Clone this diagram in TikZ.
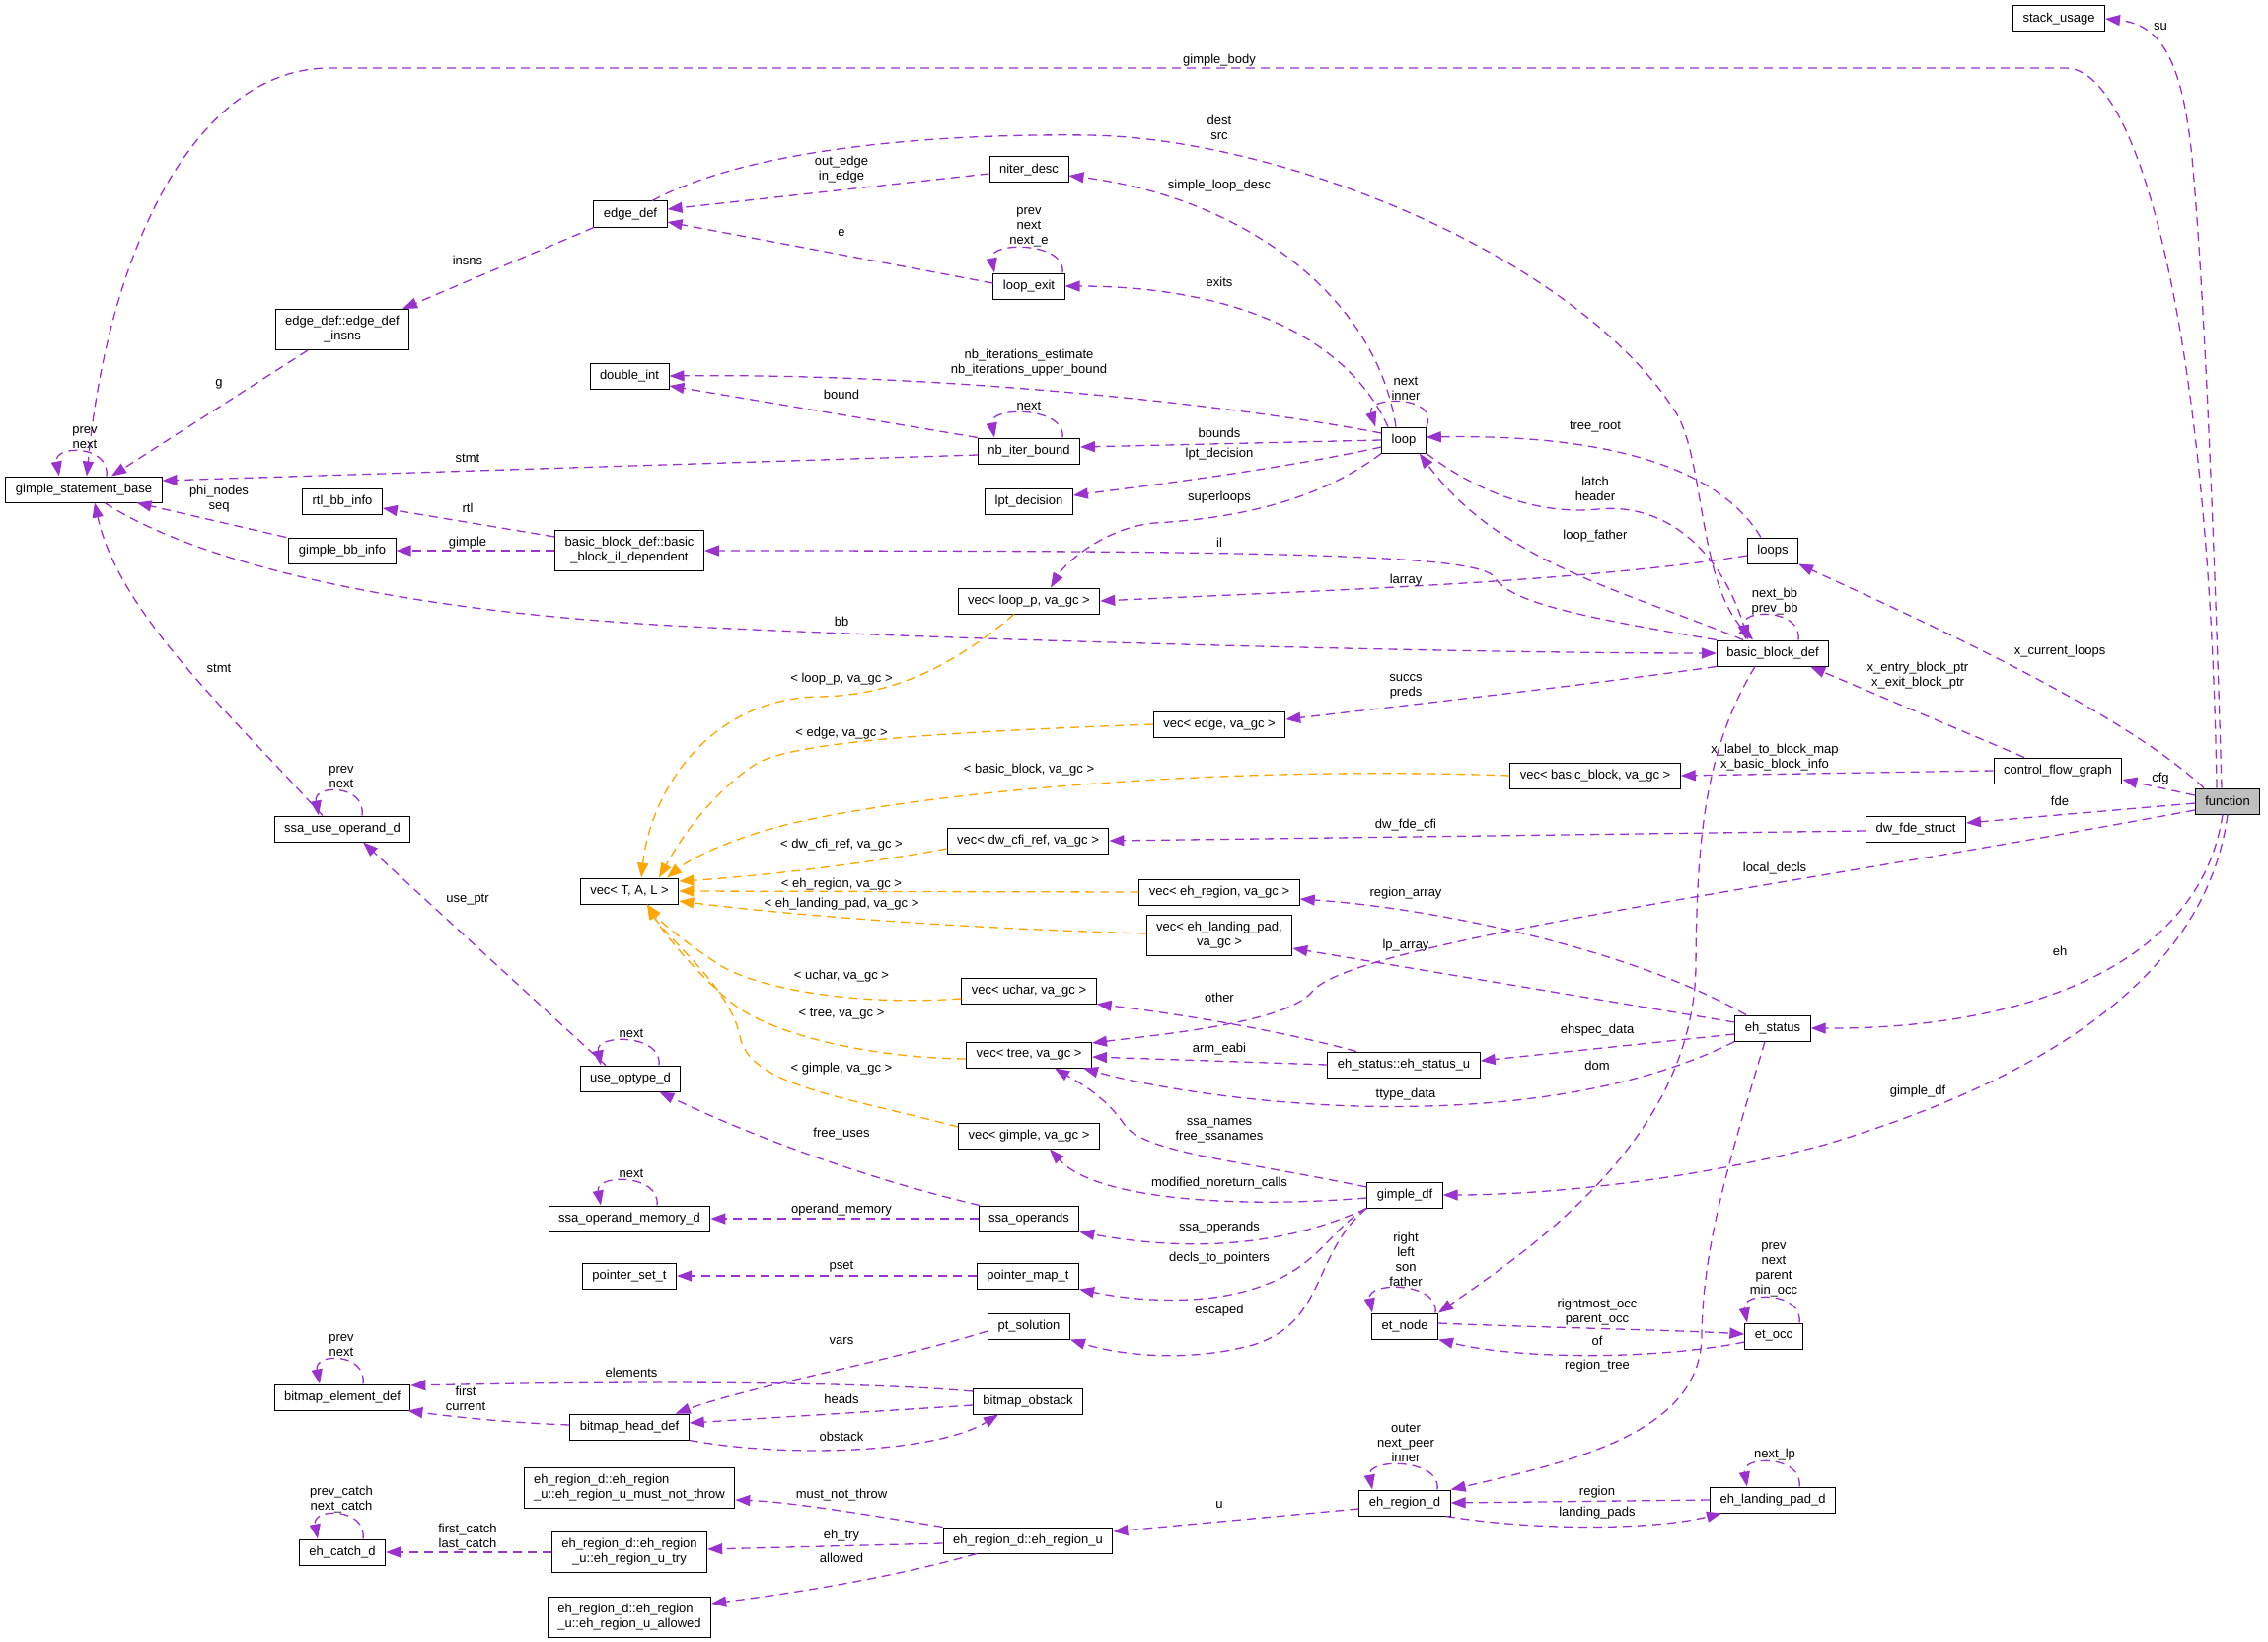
\documentclass[tikz,border=0pt]{standalone}
\usepackage{fontspec}
\setmainfont{Liberation Sans}
\usetikzlibrary{arrows.meta}
\definecolor{dxref}{HTML}{9A32CD}
\definecolor{dxtpl}{HTML}{FFA500}
\definecolor{dxfill}{HTML}{BFBFBF}
\newcommand{\dxfont}{\fontsize{13}{15}\selectfont}
\tikzset{
  cls/.style={draw=black, fill=white, line width=1pt, font=\dxfont,
              inner xsep=10pt, inner ysep=5pt, minimum height=26pt, align=center},
  cls2/.style={cls, minimum height=41pt},
  clsl/.style={cls2, align=left},
  cur/.style={cls, fill=dxfill},
  ref/.style={draw=dxref, line width=1.3pt, dash pattern=on 9pt off 6pt,
              -{Triangle[length=15pt,width=11pt]}},
  tpl/.style={ref, draw=dxtpl},
  lbl/.style={font=\dxfont, align=center, inner sep=0pt},
}

\begin{document}
\begin{tikzpicture}[x=1pt, y=-1pt]
  \useasboundingbox (0,0) rectangle (2299,1664);

  \node[cls] (gsb)      at (85,496)   {gimple\_statement\_base};
  \node[cls2] (insns)   at (347,334)  {edge\_def::edge\_def\\\_insns};
  \node[cls] (rtlbb)    at (347,508)  {rtl\_bb\_info};
  \node[cls] (gimplebb) at (347,558)  {gimple\_bb\_info};
  \node[cls] (ssause)   at (347,840)  {ssa\_use\_operand\_d};
  \node[cls] (bmelem)   at (347,1416) {bitmap\_element\_def};
  \node[cls] (catch)    at (347,1573) {eh\_catch\_d};

  \node[cls] (edgedef)  at (639,217)  {edge\_def};
  \node[cls] (dblint)   at (638,381)  {double\_int};
  \node[cls2] (bbil)    at (638,558)  {basic\_block\_def::basic\\\_block\_il\_dependent};
  \node[cls] (vecT)     at (638,903)  {vec< T, A, L >};
  \node[cls] (useopt)   at (639,1093) {use\_optype\_d};
  \node[cls] (opmem)    at (638,1235) {ssa\_operand\_memory\_d};
  \node[cls] (pset)     at (638,1293) {pointer\_set\_t};
  \node[cls] (bmhead)   at (638,1446) {bitmap\_head\_def};
  \node[clsl] (mnt)     at (638,1508) {eh\_region\_d::eh\_region\\\_u::eh\_region\_u\_must\_not\_throw};
  \node[cls2] (utry)    at (638,1573) {eh\_region\_d::eh\_region\\\_u::eh\_region\_u\_try};
  \node[clsl] (uallow)  at (638,1639) {eh\_region\_d::eh\_region\\\_u::eh\_region\_u\_allowed};

  \node[cls] (niter)    at (1043,172)  {niter\_desc};
  \node[cls] (loopexit) at (1043,290)  {loop\_exit};
  \node[cls] (nbiter)   at (1043,457)  {nb\_iter\_bound};
  \node[cls] (lpt)      at (1043,508)  {lpt\_decision};
  \node[cls] (vloop)    at (1043,609)  {vec< loop\_p, va\_gc >};
  \node[cls] (vdwcfi)   at (1042,852)  {vec< dw\_cfi\_ref, va\_gc >};
  \node[cls] (vuchar)   at (1043,1004) {vec< uchar, va\_gc >};
  \node[cls] (vtree)    at (1043,1069) {vec< tree, va\_gc >};
  \node[cls] (vgimple)  at (1043,1151) {vec< gimple, va\_gc >};
  \node[cls] (ssaops)   at (1043,1235) {ssa\_operands};
  \node[cls] (pmap)     at (1042,1293) {pointer\_map\_t};
  \node[cls] (ptsol)    at (1043,1344) {pt\_solution};
  \node[cls] (bmobst)   at (1042,1420) {bitmap\_obstack};
  \node[cls] (ehru)     at (1042,1561) {eh\_region\_d::eh\_region\_u};

  \node[cls] (vedge)    at (1236,734)  {vec< edge, va\_gc >};
  \node[cls] (vehr)     at (1236,904)  {vec< eh\_region, va\_gc >};
  \node[cls2] (vehlp)   at (1236,948)  {vec< eh\_landing\_pad,\\va\_gc >};

  \node[cls] (loop)     at (1423,446)  {loop};
  \node[cls] (ehsu)     at (1423,1079) {eh\_status::eh\_status\_u};
  \node[cls] (gdf)      at (1424,1211) {gimple\_df};
  \node[cls] (etnode)   at (1424,1344) {et\_node};
  \node[cls] (ehrd)     at (1424,1523) {eh\_region\_d};

  \node[cls] (vbb)      at (1617,786)  {vec< basic\_block, va\_gc >};
  \node[cls] (loops)    at (1797,558)  {loops};
  \node[cls] (bbd)      at (1797,662)  {basic\_block\_def};
  \node[cls] (ehstatus) at (1797,1042) {eh\_status};
  \node[cls] (etocc)    at (1798,1354) {et\_occ};
  \node[cls] (ehlp)     at (1797,1520) {eh\_landing\_pad\_d};

  \node[cls] (dwfde)    at (1942,840)  {dw\_fde\_struct};
  \node[cls] (stack)    at (2087,19)   {stack\_usage};
  \node[cls] (cfg)      at (2086,781)  {control\_flow\_graph};
  \node[cur] (func)     at (2258,812)  {function};

  \draw[ref] ([xshift=-6pt]func.north) .. controls (2245,560) and (2235,300) .. (2222,160)
    .. controls (2212,60) and (2190,25) .. (stack.east) node[lbl] at (2190,27) {su};
  \draw[ref] ([xshift=-11pt]func.north) .. controls (2240,350) and (2170,69) .. (2094,69) -- (334,69)
    .. controls (200,69) and (110,250) .. ([xshift=3pt]gsb.north) node[lbl] at (1236,61) {gimple\_body};
  \draw[ref] ([xshift=-24pt]func.north) .. controls (2150,720) and (1950,630) .. (loops.south east)
    node[lbl] at (2088,660) {x\_current\_loops};
  \draw[ref] ([yshift=6pt]func.west) -- ([yshift=-9pt]cfg.east) node[lbl] at (2190,789) {cfg};
  \draw[ref] ([yshift=-2pt]func.west) -- ([yshift=6pt]dwfde.east) node[lbl] at (2088,812) {fde};
  \draw[ref] ([yshift=-9pt]func.west) .. controls (1800,900) and (1370,955) .. (1330,1005)
    .. controls (1305,1036) and (1180,1048) .. ([yshift=12pt]vtree.east) node[lbl] at (1799,880) {local\_decls};
  \draw[ref] ([xshift=-5pt]func.south) .. controls (2230,980) and (2050,1043) .. (ehstatus.east)
    node[lbl] at (2088,964) {eh};
  \draw[ref] (func.south) .. controls (2235,1000) and (2050,1100) .. (1850,1160)
    .. controls (1700,1200) and (1550,1211) .. (gdf.east) node[lbl] at (1944,1106) {gimple\_df};

  \draw[ref] ([xshift=-34pt]cfg.north) -- ([xshift=-19pt]bbd.south east)
    node[lbl] at (1944,684.5) {x\_entry\_block\_ptr\\x\_exit\_block\_ptr};
  \draw[ref] (cfg.west) -- (vbb.east) node[lbl] at (1799,767.5) {x\_label\_to\_block\_map\\x\_basic\_block\_info};
  \draw[ref] ([yshift=-2pt]dwfde.west) -- (vdwcfi.east) node[lbl] at (1425,836) {dw\_fde\_cfi};
  \draw[ref] ([xshift=-12pt]loops.north) .. controls (1740,470) and (1620,440) .. ([yshift=3pt]loop.east)
    node[lbl] at (1617,433) {tree\_root};
  \draw[ref] ([yshift=-5pt]loops.west) .. controls (1600,590) and (1350,598) .. (vloop.east)
    node[lbl] at (1425,588) {larray};

  \draw[ref] ([xshift=26pt]bbd.north) .. controls +(4,-32) and +(-6,-32) .. ([xshift=-27pt]bbd.north)
    node[lbl] at (1799,610) {next\_bb\\prev\_bb};
  \draw[ref] ([xshift=22pt]edgedef.north) .. controls (760,150) and (950,135) .. (1104,137)
    .. controls (1300,140) and (1600,260) .. (1700,420)
    .. controls (1728,470) and (1722,590) .. ([xshift=-20pt]bbd.north) node[lbl] at (1236,129.5) {dest\\src};
  \draw[ref] (loop.south east) .. controls (1500,500) and (1560,522) .. (1620,516)
    .. controls (1690,509) and (1745,560) .. ([xshift=-25pt]bbd.north) node[lbl] at (1617,495.5) {latch\\header};
  \draw[ref] ([xshift=-30pt]bbd.north) .. controls (1650,600) and (1520,570) .. ([xshift=-7pt]loop.south east)
    node[lbl] at (1617,543) {loop\_father};
  \draw[ref] ([xshift=21pt]gsb.south) .. controls (200,570) and (400,620) .. (700,635)
    .. controls (1000,650) and (1500,662) .. (bbd.west) node[lbl] at (853,630) {bb};
  \draw[ref] (bbd.north west) .. controls (1600,625) and (1530,610) .. (1515,585)
    .. controls (1500,562) and (1300,558) .. (bbil.east) node[lbl] at (1236,550) {il};
  \draw[ref] (bbd.south west) .. controls (1600,695) and (1450,712) .. ([yshift=5pt]vedge.east)
    node[lbl] at (1425,695.5) {succs\\preds};
  \draw[ref] ([xshift=-18pt]bbd.south) .. controls (1728,760) and (1720,850) .. (1719,979)
    .. controls (1717,1150) and (1560,1260) .. (etnode.north east) node[lbl] at (1619,1080) {dom};

  \draw[ref] ([yshift=8pt]gdf.west) .. controls (1250,1175) and (1160,1168) .. (1140,1140)
    .. controls (1120,1110) and (1090,1095) .. ([xshift=26pt]vtree.south)
    node[lbl] at (1236,1145.5) {ssa\_names\\free\_ssanames};
  \draw[ref] ([yshift=-3pt]gdf.west) .. controls (1250,1225) and (1110,1215) .. ([xshift=21pt]vgimple.south)
    node[lbl] at (1236,1199) {modified\_noreturn\_calls};
  \draw[ref] (gdf.south west) .. controls (1330,1250) and (1240,1275) .. (ssaops.south east)
    node[lbl] at (1236,1244) {ssa\_operands};
  \draw[ref] (gdf.south west) .. controls (1340,1250) and (1335,1300) .. (1230,1315)
    .. controls (1170,1322) and (1120,1312) .. (pmap.south east) node[lbl] at (1236,1275) {decls\_to\_pointers};
  \draw[ref] (gdf.south west) .. controls (1330,1270) and (1345,1340) .. (1270,1363)
    .. controls (1200,1382) and (1130,1372) .. (ptsol.south east) node[lbl] at (1236,1328) {escaped};

  \draw[ref] (ehstatus.south west) .. controls (1640,1115) and (1480,1126) .. (1350,1120)
    .. controls (1250,1115) and (1160,1100) .. ([xshift=-9pt]vtree.south east) node[lbl] at (1425,1109) {ttype\_data};
  \draw[ref] ([yshift=-6pt]ehstatus.west) -- ([yshift=4pt]ehsu.east) node[lbl] at (1619,1044) {ehspec\_data};
  \draw[ref] ([xshift=-27pt]ehstatus.north) .. controls (1650,960) and (1450,920) .. ([yshift=-7pt]vehr.east)
    node[lbl] at (1425,905) {region\_array};
  \draw[ref] ([yshift=6pt]ehstatus.west) -- ([yshift=-13pt]vehlp.east) node[lbl] at (1425,958) {lp\_array};
  \draw[ref] ([xshift=-8pt]ehstatus.south) .. controls (1755,1170) and (1726,1260) .. (1725,1354)
    .. controls (1724,1450) and (1600,1480) .. (ehrd.north east) node[lbl] at (1619,1384) {region\_tree};
  \draw[ref] ([xshift=-48pt]ehsu.north) .. controls (1300,1045) and (1200,1028) .. (vuchar.south east)
    node[lbl] at (1236,1011) {other};
  \draw[ref] (ehsu.west) -- ([yshift=-2pt]vtree.east) node[lbl] at (1236,1063) {arm\_eabi};

  \draw[ref] ([yshift=3pt]etnode.east) .. controls (1550,1345) and (1700,1348) .. ([yshift=2pt]etocc.west)
    node[lbl] at (1619,1330) {rightmost\_occ\\parent\_occ};
  \draw[ref] ([yshift=-6pt]etocc.west) .. controls (1680,1378) and (1540,1378) .. (etnode.south east)
    node[lbl] at (1619,1359) {of};
  \draw[ref] ([xshift=31pt]etnode.north) .. controls +(4,-32) and +(-6,-32) .. ([xshift=-33pt]etnode.north)
    node[lbl] at (1425,1276) {right\\left\\son\\father};
  \draw[ref] ([xshift=26pt]etocc.north) .. controls +(4,-32) and +(-6,-32) .. ([xshift=-27pt]etocc.north)
    node[lbl] at (1798,1287) {prev\\next\\parent\\min\_occ};
  \draw[ref] ([xshift=33pt]ehrd.north) .. controls +(4,-32) and +(-6,-32) .. ([xshift=-33pt]ehrd.north)
    node[lbl] at (1425,1462) {outer\\next\_peer\\inner};
  \draw[ref] ([xshift=27pt]ehlp.north) .. controls +(4,-32) and +(-6,-32) .. ([xshift=-26pt]ehlp.north)
    node[lbl] at (1799,1474) {next\_lp};
  \draw[ref] (ehlp.west) -- (ehrd.east) node[lbl] at (1619,1512) {region};
  \draw[ref] ([xshift=-5pt]ehrd.south east) .. controls (1560,1552) and (1680,1550) .. ([xshift=12pt]ehlp.south west)
    node[lbl] at (1619,1533) {landing\_pads};
  \draw[ref] ([yshift=-6pt]ehrd.west) -- ([yshift=9pt]ehru.east) node[lbl] at (1236,1525) {u};

  \draw[ref] (ehru.north west) .. controls (880,1535) and (800,1522) .. ([yshift=-12pt]mnt.east)
    node[lbl] at (853,1515) {must\_not\_throw};
  \draw[ref] ([yshift=-3pt]ehru.west) -- ([yshift=3pt]utry.east) node[lbl] at (853,1556) {eh\_try};
  \draw[ref] ([xshift=-52pt]ehru.south) .. controls (900,1600) and (800,1615) .. ([yshift=14pt]uallow.east)
    node[lbl] at (853,1579) {allowed};
  \draw[ref] (utry.west) -- (catch.east) node[lbl] at (474,1557.5) {first\_catch\\last\_catch};
  \draw[ref] ([xshift=21pt]catch.north) .. controls +(4,-32) and +(-6,-32) .. ([xshift=-25pt]catch.north)
    node[lbl] at (346,1519.5) {prev\_catch\\next\_catch};

  \draw[ref] ([xshift=21pt]bmelem.north) .. controls +(4,-32) and +(-6,-32) .. ([xshift=-23pt]bmelem.north)
    node[lbl] at (346,1363.5) {prev\\next};
  \draw[ref] ([yshift=10pt]bmobst.west) .. controls (900,1402) and (700,1398) .. ([yshift=12pt]bmelem.east)
    node[lbl] at (640,1391) {elements};
  \draw[ref] ([yshift=2pt]bmhead.west) .. controls (520,1442) and (460,1436) .. ([xshift=-3pt]bmelem.south east)
    node[lbl] at (472,1417.5) {first\\current};
  \draw[ref] ([yshift=-4pt]bmobst.west) -- ([yshift=4pt]bmhead.east) node[lbl] at (853,1418) {heads};
  \draw[ref] (bmhead.south east) .. controls (800,1478) and (950,1472) .. ([xshift=-30pt]bmobst.south)
    node[lbl] at (853,1456) {obstack};
  \draw[ref] ([yshift=-5pt]ptsol.west) .. controls (900,1380) and (760,1405) .. ([xshift=-14pt]bmhead.north east)
    node[lbl] at (853,1359) {vars};

  \draw[ref] (ssaops.west) -- (opmem.east) node[lbl] at (853,1226) {operand\_memory};
  \draw[ref] ([xshift=28pt]opmem.north) .. controls +(4,-32) and +(-6,-32) .. ([xshift=-29pt]opmem.north)
    node[lbl] at (640,1189) {next};
  \draw[ref] (pmap.west) -- (pset.east) node[lbl] at (853,1284) {pset};
  \draw[ref] ([xshift=-50pt]ssaops.north) .. controls (900,1200) and (780,1160) .. ([xshift=-22pt]useopt.south east)
    node[lbl] at (853,1149) {free\_uses};
  \draw[ref] ([xshift=-25pt]useopt.north) -- ([xshift=21pt]ssause.south) node[lbl] at (474,912) {use\_ptr};
  \draw[ref] ([xshift=29pt]useopt.north) .. controls +(4,-32) and +(-6,-32) .. ([xshift=-30pt]useopt.north)
    node[lbl] at (640,1047) {next};
  \draw[ref] ([xshift=-20pt]ssause.north) .. controls (230,720) and (120,620) .. ([xshift=11pt]gsb.south)
    node[lbl] at (222,677) {stmt};
  \draw[ref] ([xshift=20pt]ssause.north) .. controls +(4,-32) and +(-6,-32) .. ([xshift=-24pt]ssause.north)
    node[lbl] at (346,787.5) {prev\\next};

  \draw[ref] ([xshift=-57pt]gimplebb.north) -- ([xshift=-26pt]gsb.south east) node[lbl] at (222,505.5) {phi\_nodes\\seq};
  \draw[ref] (bbil.west) -- (gimplebb.east) node[lbl] at (474,550) {gimple};
  \draw[ref] ([yshift=-7pt]bbil.north west) -- ([yshift=-7pt]rtlbb.east) node[lbl] at (474,515) {rtl};
  \draw[ref] ([xshift=-35pt]insns.south) -- ([xshift=28pt]gsb.north) node[lbl] at (222,389) {g};
  \draw[ref] ([xshift=-37pt]edgedef.south) -- ([xshift=61pt]insns.north) node[lbl] at (474,264) {insns};
  \draw[ref] ([xshift=23pt]gsb.north) .. controls +(4,-32) and +(-6,-32) .. ([xshift=-25pt]gsb.north)
    node[lbl] at (86,443.5) {prev\\next};

  \draw[ref] ([yshift=-4pt]nbiter.west) -- ([yshift=9pt]gsb.east) node[lbl] at (474,464) {stmt};
  \draw[ref] (nbiter.north west) -- ([yshift=-10pt]dblint.east) node[lbl] at (853,400) {bound};
  \draw[ref] ([xshift=34pt]nbiter.north) .. controls +(4,-32) and +(-6,-32) .. ([xshift=-35pt]nbiter.north)
    node[lbl] at (1043,411) {next};
  \draw[ref] ([yshift=7pt]loop.west) .. controls (1250,410) and (950,378) .. (dblint.east)
    node[lbl] at (1043,367.5) {nb\_iterations\_estimate\\nb\_iterations\_upper\_bound};
  \draw[ref] (loop.west) -- ([yshift=4pt]nbiter.east) node[lbl] at (1236,439) {bounds};
  \draw[ref] ([yshift=-7pt]loop.west) .. controls (1300,475) and (1180,490) .. ([yshift=6pt]lpt.east)
    node[lbl] at (1236,460) {lpt\_decision};
  \draw[ref] (loop.south west) .. controls (1340,505) and (1260,525) .. (1170,530)
    .. controls (1120,535) and (1080,570) .. ([xshift=22pt]vloop.north) node[lbl] at (1236,504) {superloops};
  \draw[ref] (loop.north east) .. controls +(15,-32) and +(-10,-32) .. ([xshift=-6pt]loop.north west)
    node[lbl] at (1425,394) {next\\inner};
  \draw[ref] ([xshift=-8pt]loop.north) .. controls (1395,300) and (1260,200) .. ([yshift=-6pt]niter.east)
    node[lbl] at (1236,188) {simple\_loop\_desc};
  \draw[ref] ([xshift=-16pt]loop.north) .. controls (1360,330) and (1230,290) .. (loopexit.east)
    node[lbl] at (1236,286) {exits};
  \draw[ref] ([yshift=3pt]loopexit.west) -- ([yshift=-8pt]edgedef.east) node[lbl] at (853,236) {e};
  \draw[ref] ([yshift=-4pt]niter.west) -- ([yshift=5pt]edgedef.east) node[lbl] at (853,171.5) {out\_edge\\in\_edge};
  \draw[ref] ([xshift=34pt]loopexit.north) .. controls +(4,-32) and +(-6,-32) .. ([xshift=-35pt]loopexit.north)
    node[lbl] at (1043,230.5) {prev\\next\\next\_e};

  \draw[tpl] ([xshift=-15pt]vloop.south) .. controls (960,680) and (900,705) .. (830,706)
    .. controls (720,708) and (660,800) .. ([xshift=12pt]vecT.north) node[lbl] at (853,688) {< loop\_p, va\_gc >};
  \draw[tpl] (vedge.west) .. controls (950,742) and (800,752) .. (765,775)
    .. controls (720,805) and (690,850) .. ([xshift=30pt]vecT.north) node[lbl] at (853,743) {< edge, va\_gc >};
  \draw[tpl] (vbb.west) .. controls (1250,776) and (950,800) .. (800,835)
    .. controls (740,850) and (700,870) .. ([xshift=38pt]vecT.north) node[lbl] at (1043,780) {< basic\_block, va\_gc >};
  \draw[tpl] ([yshift=-8pt]vdwcfi.west) .. controls (880,875) and (770,888) .. ([yshift=10pt]vecT.east)
    node[lbl] at (853,856) {< dw\_cfi\_ref, va\_gc >};
  \draw[tpl] (vehr.west) -- (vecT.east) node[lbl] at (853,896) {< eh\_region, va\_gc >};
  \draw[tpl] ([yshift=2pt]vehlp.west) .. controls (950,940) and (780,925) .. ([yshift=-10pt]vecT.east)
    node[lbl] at (853,916) {< eh\_landing\_pad, va\_gc >};
  \draw[tpl] ([yshift=-8pt]vuchar.west) .. controls (860,1020) and (760,1000) .. (725,975)
    .. controls (695,955) and (670,935) .. ([xshift=18pt]vecT.south) node[lbl] at (853,989) {< uchar, va\_gc >};
  \draw[tpl] ([yshift=-4pt]vtree.west) .. controls (880,1072) and (780,1048) .. (740,1015)
    .. controls (705,985) and (672,945) .. ([xshift=18pt]vecT.south) node[lbl] at (853,1028) {< tree, va\_gc >};
  \draw[tpl] ([yshift=9pt]vgimple.west) .. controls (850,1110) and (760,1100) .. (750,1050)
    .. controls (740,1000) and (675,950) .. ([xshift=18pt]vecT.south) node[lbl] at (853,1083) {< gimple, va\_gc >};
\end{tikzpicture}
\end{document}
